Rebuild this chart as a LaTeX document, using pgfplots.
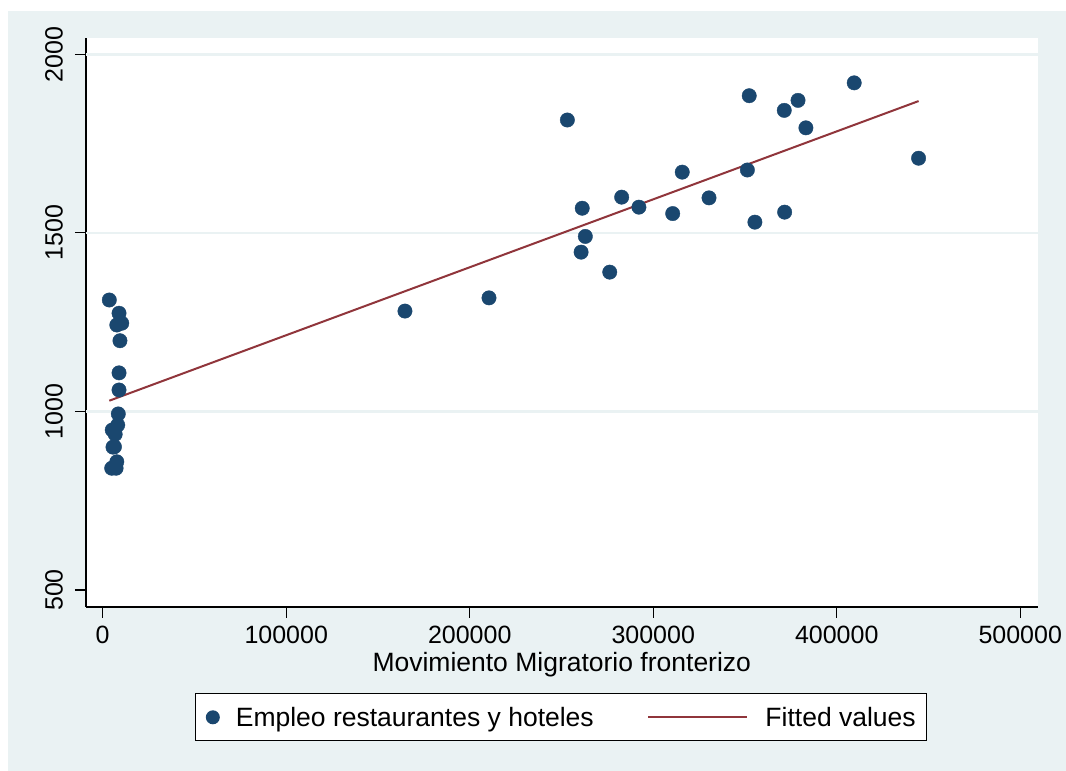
\documentclass[border=0pt]{standalone}
\usepackage{pgfplots}
\pgfplotsset{compat=1.18}
\usepackage{fontspec}
\setmainfont{Liberation Sans}
\definecolor{statanavy}{RGB}{26,71,111}
\definecolor{statamaroon}{RGB}{144,53,59}
\definecolor{bluishgray}{RGB}{234,242,243}
\newcommand{\tickfont}{\fontsize{25}{30}\selectfont}
\newcommand{\labelfont}{\fontsize{26.5}{31}\selectfont}
\begin{document}
\begin{tikzpicture}
\fill[white] (0pt,0pt) rectangle (1066pt,771pt);
\fill[bluishgray] (8pt,0pt) rectangle (1066pt,760pt);
\begin{axis}[
    at={(86pt,164pt)}, anchor=south west,
    scale only axis, width=951.5pt, height=568.7pt,
    xmin=-9100, xmax=509400, ymin=452.4, ymax=2044.8,
    axis lines*=left,
    axis line style={-, line width=1.2pt, black},
    axis background/.style={fill=white},
    tick align=outside, major tick length=11pt,
    tick style={line width=1.2pt, black},
    scaled x ticks=false, scaled y ticks=false,
    xtick={0,100000,200000,300000,400000,500000},
    xticklabels={0,100000,200000,300000,400000,500000},
    ytick={500,1000,1500,2000},
    yticklabels={500,1000,1500,2000},
    extra y ticks={1000,1500,2000},
    extra y tick labels={},
    extra y tick style={grid=major, major tick length=0pt},
    grid style={line width=2.5pt, bluishgray},
    tick label style={font=\tickfont},
    yticklabel style={rotate=90, anchor=south, inner sep=1pt},
    yticklabel shift=11pt,
    xticklabel style={inner sep=2pt},
    xticklabel shift=6pt,
    xlabel={Movimiento Migratorio fronterizo},
    xlabel style={font=\labelfont, inner sep=0pt, yshift=-6pt},
    legend columns=2,
    legend cell align=left,
    legend style={at={(0.1146,-0.152)}, anchor=north west,
        draw=black, line width=1pt, fill=white,
        inner xsep=10.3pt, inner ysep=13pt,
        font=\labelfont,
        nodes={inner sep=0pt},
        /tikz/every even column/.append style={column sep=53.7pt}},
]
\addplot[only marks, mark=*, mark size=7.2pt, draw=none,
    mark options={fill=statanavy, draw=statanavy},
    legend image code/.code={\fill[statanavy] (7pt,0pt) circle (7pt);
        \path[draw=none, fill=none] (0pt,0pt) rectangle (30pt,0pt);}]
table {
x y
3600 1312
8900 1275
7700 1242
10400 1247
9400 1198
8900 1108
8900 1060
8500 993
8200 962
5200 948
6800 936
6400 901
5600 900
7700 859
4900 841
7300 841
164700 1281
210500 1318
253200 1816
260700 1446
261300 1569
263000 1490
276300 1390
282800 1600
292200 1572
310600 1554
315800 1670
330400 1598
351300 1676
352300 1884
355400 1530
371400 1843
371600 1558
378900 1871
383200 1794
409500 1920
444600 1709
};
\addlegendentry{Empleo restaurantes y hoteles}
\addplot[statamaroon, line width=2pt,
    legend image code/.code={\draw[statamaroon, line width=2pt] (0pt,0pt) -- (99pt,0pt);
        \path[draw=none, fill=none] (0pt,0pt) rectangle (117pt,0pt);}]
coordinates {(3600,1030) (444600,1869)};
\addlegendentry{Fitted values\hspace{6pt}}
\end{axis}
\pgfresetboundingbox
\path (0pt,0pt) rectangle (1066pt,771pt);
\end{tikzpicture}
\end{document}
